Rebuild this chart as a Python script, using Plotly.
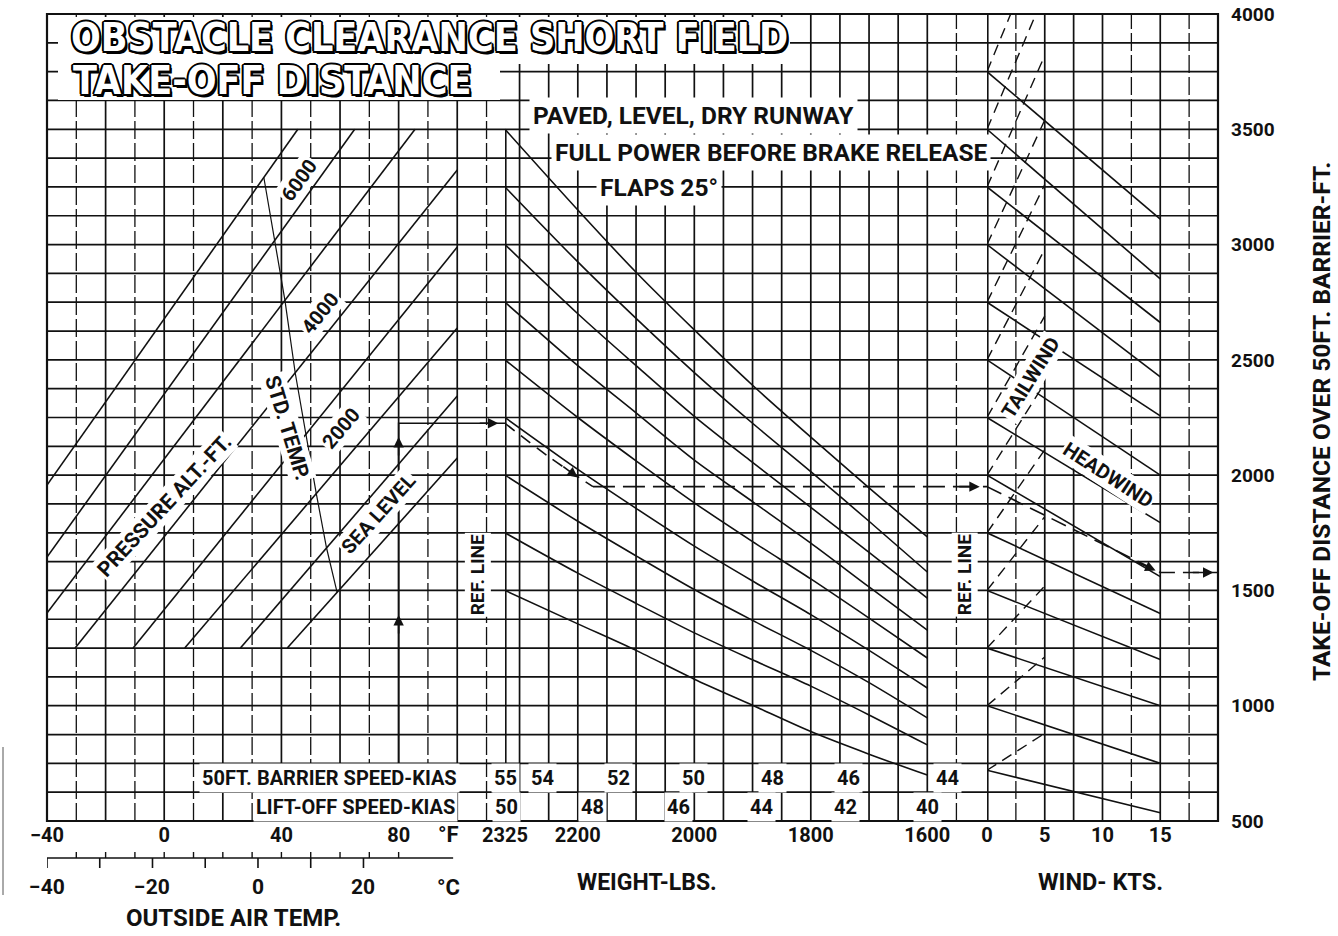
import plotly.graph_objects as go

# ---------------- data ----------------
TEMP_TICKS_F = [-40, 0, 40, 80]
TEMP_TICKS_C = [-40, -20, 0, 20]
WEIGHT_TICKS = [2325, 2200, 2000, 1800, 1600]
WIND_TICKS = [0, 5, 10, 15]
DIST_TICKS = [500, 1000, 1500, 2000, 2500, 3000, 3500, 4000]

# pressure-altitude guide lines (start / end points, deg F and ft)
ALT_NAMES = ["SEA LEVEL", "1000", "2000", "3000", "4000", "5000", "6000", "7000"]
ALT_T_START = [42, 26, 7, -10.6, -30.4, -40, -40, -40]
ALT_FT_START = [1250, 1250, 1250, 1250, 1250, 1402, 1645, 1957]
ALT_T_END = [100, 100, 100, 100, 100, 85.6, 65, 45.6]
ALT_FT_END = [2074, 2343, 2638, 2989, 3323, 3500, 3500, 3500]

# standard temperature line
STD_TEMP_F = [59.0, 55.4, 51.9, 48.3, 44.7, 41.2, 37.6, 34.0]
STD_TEMP_FT = [1492, 1684, 1920, 2176, 2444, 2758, 3016, 3291]

# weight correction curves
WEIGHTS = [2325, 2200, 2100, 2000, 1900, 1800, 1700, 1600]
WT_3500 = [3500, 3150, 2880, 2630, 2390, 2165, 1945, 1732]
WT_3250 = [3250, 2925, 2680, 2445, 2225, 2015, 1800, 1580]
WT_3000 = [3000, 2700, 2475, 2255, 2055, 1860, 1665, 1467]
WT_2750 = [2750, 2475, 2270, 2065, 1885, 1705, 1515, 1328]
WT_2500 = [2500, 2250, 2062, 1880, 1712, 1550, 1380, 1207]
WT_2250 = [2250, 2025, 1856, 1692, 1541, 1395, 1240, 1077]
WT_2000 = [2000, 1800, 1650, 1504, 1370, 1240, 1100, 947]
WT_1750 = [1750, 1575, 1444, 1316, 1199, 1085, 960, 830]
WT_1500 = [1500, 1355, 1240, 1115, 1002, 888, 790, 699]
WT_CURVES = [WT_3500, WT_3250, WT_3000, WT_2750, WT_2500, WT_2250, WT_2000, WT_1750, WT_1500]

# wind correction lines
WIND_REF_FT = [720, 1000, 1250, 1500, 1750, 2000, 2250, 2500, 2750, 3000, 3250, 3500, 3750]
HEADWIND_15KT_FT = [536, 750, 1000, 1200, 1400, 1560, 1794, 2000, 2257, 2426, 2662, 2851, 3110]
TAILWIND_5KT_FT = [880, 1211, 1519, 1820, 2110, 2400, 2690, 2980, 3260, 3540, 3820, 4090, 4360]

# speed scales
BARRIER_SPEEDS = ["55", "54", "52", "50", "48", "46", "44"]
BARRIER_WT = [2325, 2261, 2131, 2002, 1866, 1736, 1566]
LIFTOFF_SPEEDS = ["50", "48", "46", "44", "42", "40"]
LIFTOFF_WT = [2322, 2174, 2028, 1884, 1741, 1600]

# worked example
EX_TEMP_F = [80, 80, 116.3]
EX_TEMP_FT = [750, 2225, 2225]
EX_WT = [2325, 2250, 2174]
EX_WT_FT = [2225, 2080, 1950]
EX_WT_FLAT = [2174, 1497.5]
EX_WT_FLAT_FT = [1950, 1950]
EX_WIND = [0, 15, 20]
EX_WIND_FT = [1950, 1578, 1578]

# ---------------- layout geometry ----------------
W, H = 1338, 936
ML, MR, MT, MB = 47, 120, 14, 115
PW, PH = W - ML - MR, H - MT - MB
D1 = (505 - ML) / PW
D2 = (987 - ML) / PW
X1_RANGE = [-40, 116.3]
X2_RANGE = [2325, 1497.5]
X3_RANGE = [0, 20]
Y_RANGE = [500, 4000]


def px(x):
    return (x - ML) / PW


def py(y):
    return (H - MB - y) / PH


FN = "Roboto, Liberation Sans, sans-serif"
TITLE_FN = "DejaVu Sans Condensed, DejaVu Sans, sans-serif"
BLACK = "#111111"

fig = go.Figure()

# ---------------- traces ----------------
for t0, d0, t1, d1 in zip(ALT_T_START, ALT_FT_START, ALT_T_END, ALT_FT_END):
    fig.add_trace(go.Scatter(x=[t0, t1], y=[d0, d1], xaxis="x", yaxis="y", mode="lines",
                             line=dict(color=BLACK, width=1.6), hoverinfo="skip"))
fig.add_trace(go.Scatter(x=STD_TEMP_F, y=STD_TEMP_FT, xaxis="x", yaxis="y", mode="lines",
                         line=dict(color=BLACK, width=1.2), hoverinfo="skip"))

for curve in WT_CURVES:
    fig.add_trace(go.Scatter(x=WEIGHTS, y=curve, xaxis="x2", yaxis="y", mode="lines",
                             line=dict(color=BLACK, width=1.6, shape="spline", smoothing=0.8),
                             hoverinfo="skip"))

for s, h, t in zip(WIND_REF_FT, HEADWIND_15KT_FT, TAILWIND_5KT_FT):
    fig.add_trace(go.Scatter(x=[0, 15], y=[s, h], xaxis="x3", yaxis="y", mode="lines",
                             line=dict(color=BLACK, width=1.6), hoverinfo="skip"))
    fig.add_trace(go.Scatter(x=[0, 5], y=[s, t], xaxis="x3", yaxis="y", mode="lines",
                             line=dict(color=BLACK, width=1.4, dash="11px,7px"), hoverinfo="skip"))

# example path
fig.add_trace(go.Scatter(x=EX_TEMP_F, y=EX_TEMP_FT, xaxis="x", yaxis="y", mode="lines",
                         line=dict(color=BLACK, width=1.6), hoverinfo="skip"))
fig.add_trace(go.Scatter(x=EX_WT, y=EX_WT_FT, xaxis="x2", yaxis="y", mode="lines",
                         line=dict(color=BLACK, width=1.6, dash="12px,8px", shape="spline"),
                         hoverinfo="skip"))
fig.add_trace(go.Scatter(x=EX_WT_FLAT, y=EX_WT_FLAT_FT, xaxis="x2", yaxis="y", mode="lines",
                         line=dict(color=BLACK, width=1.8, dash="22px,8px"), hoverinfo="skip"))
fig.add_trace(go.Scatter(x=EX_WIND, y=EX_WIND_FT, xaxis="x3", yaxis="y", mode="lines",
                         line=dict(color=BLACK, width=1.6, dash="16px,8px"), hoverinfo="skip"))

# ---------------- shapes (grid, frame, scales) ----------------
shapes = []
GRID_W = 1.7
for d in range(625, 4000, 125):
    shapes.append(dict(type="line", xref="paper", yref="y", x0=0, x1=1, y0=d, y1=d,
                       line=dict(color=BLACK, width=GRID_W), layer="below"))
for t in range(-30, 111, 10):
    dashed = (t // 10) % 2 != 0
    shapes.append(dict(type="line", xref="x", yref="paper", x0=t, x1=t, y0=0, y1=1,
                       line=dict(color=BLACK, width=GRID_W - (0.4 if dashed else 0),
                                 dash="18px,4px" if dashed else "solid"), layer="below"))
for wgt in range(1600, 2301, 50):
    shapes.append(dict(type="line", xref="x2", yref="paper", x0=wgt, x1=wgt, y0=0, y1=1,
                       line=dict(color=BLACK, width=GRID_W), layer="below"))
shapes.append(dict(type="line", xref="x2", yref="paper", x0=1550, x1=1550, y0=0, y1=1,
                   line=dict(color=BLACK, width=GRID_W - 0.4, dash="18px,4px"), layer="below"))
for k in [5, 7.5, 10, 15]:
    shapes.append(dict(type="line", xref="x3", yref="paper", x0=k, x1=k, y0=0, y1=1,
                       line=dict(color=BLACK, width=GRID_W), layer="below"))
for k in [2.5, 12.5, 17.5]:
    shapes.append(dict(type="line", xref="x3", yref="paper", x0=k, x1=k, y0=0, y1=1,
                       line=dict(color=BLACK, width=GRID_W - 0.4, dash="18px,4px"), layer="below"))
# reference lines
shapes.append(dict(type="line", xref="x2", yref="y", x0=2325, x1=2325, y0=750, y1=3500,
                   line=dict(color=BLACK, width=3.2)))
shapes.append(dict(type="line", xref="x3", yref="y", x0=0, x1=0, y0=500, y1=4000,
                   line=dict(color=BLACK, width=3.2)))
# title blanking boxes
for x0, x1, y0, y1 in [(58, 790, 17, 64), (58, 500, 64, 100)]:
    shapes.append(dict(type="rect", xref="paper", yref="paper", x0=px(x0), x1=px(x1),
                       y0=py(y1), y1=py(y0), fillcolor="white", line=dict(width=0), layer="above"))
# frame
shapes.append(dict(type="rect", xref="paper", yref="paper", x0=0, x1=1, y0=0, y1=1,
                   line=dict(color=BLACK, width=2.2), layer="above"))
# temperature scale (deg F above / deg C below)
ys = py(858)
shapes.append(dict(type="line", xref="x", yref="paper", x0=-40, x1=98.6, y0=ys, y1=ys,
                   line=dict(color=BLACK, width=1.6)))
for t in range(-30, 81, 10):
    shapes.append(dict(type="line", xref="x", yref="paper", x0=t, x1=t, y0=ys, y1=ys + 6 / PH,
                       line=dict(color=BLACK, width=1.4)))
for c in range(-40, 21, 10):
    f = c * 9 / 5 + 32
    shapes.append(dict(type="line", xref="x", yref="paper", x0=f, x1=f, y0=ys, y1=ys - 10 / PH,
                       line=dict(color=BLACK, width=1.6)))
# scan artefact at far left
shapes.append(dict(type="line", xref="paper", yref="paper", x0=px(3), x1=px(3), y0=py(895), y1=py(747),
                   line=dict(color="#555555", width=1)))

# ---------------- annotations ----------------
ann = []


def text(t, x, y, size, xref="paper", yref="paper", angle=0, bg=None, xanchor="center",
         weight="bold", pad=1):
    d = dict(text=t, x=x, y=y, xref=xref, yref=yref, showarrow=False, textangle=angle,
             xanchor=xanchor, yanchor="middle",
             font=dict(family=FN, size=size, color=BLACK, weight=weight), borderpad=pad)
    if bg:
        d["bgcolor"] = bg
    ann.append(d)


OUTLINE = ("-2px 0 0 #000, 2px 0 0 #000, 0 -2px 0 #000, 0 2px 0 #000, "
           "-1.5px -1.5px 0 #000, 1.5px 1.5px 0 #000, -1.5px 1.5px 0 #000, 1.5px -1.5px 0 #000, "
           "2.5px 2.5px 0 #000")
for t, x0, yc in [("OBSTACLE CLEARANCE SHORT FIELD", 69, 38), ("TAKE-OFF DISTANCE", 71, 81)]:
    ann.append(dict(text=t, x=px(x0), y=py(yc), xref="paper", yref="paper", showarrow=False,
                    xanchor="left", yanchor="middle",
                    font=dict(family=TITLE_FN, size=39, color="white", weight="bold", shadow=OUTLINE)))

text("PAVED, LEVEL, DRY RUNWAY", px(529), py(115), 24.5, bg="white", xanchor="left", pad=3)
text("FULL POWER BEFORE BRAKE RELEASE", px(551), py(152), 24.5, bg="white", xanchor="left", pad=3)
text("FLAPS 25°", px(596), py(187), 24.5, bg="white", xanchor="left", pad=3)

# left panel labels
text("6000", 46, 3280, 20, "x", "y", angle=-54, bg="white")
text("4000", 53.2, 2703, 20, "x", "y", angle=-51, bg="white")
text("2000", 60.4, 2204, 20, "x", "y", angle=-50, bg="white")
text("SEA LEVEL", 73, 1831, 20, "x", "y", angle=-48, bg="white")
text("PRESSURE ALT.-FT.", 0, 1866, 21, "x", "y", angle=-47, bg="white")
text("STD. TEMP.", 42, 2204, 21, "x", "y", angle=73, bg="white")
text("REF. LINE", 107.2, 1567, 19, "x", "y", angle=-90, bg="white")
text("REF. LINE", 1535, 1567, 19, "x2", "y", angle=-90, bg="white")
text("TAILWIND", 3.8, 2425, 20, "x3", "y", angle=-58, bg="white")
text("HEADWIND", 10.5, 2000, 20, "x3", "y", angle=33, bg="white")

# speed rows
text("50FT. BARRIER SPEED-KIAS", 101, 687.5, 20, "x", "y", bg="white", xanchor="right", pad=2)
text("LIFT-OFF SPEED-KIAS", 100.3, 562.5, 20, "x", "y", bg="white", xanchor="right", pad=2)
for s, wgt in zip(BARRIER_SPEEDS, BARRIER_WT):
    text(s, wgt, 687.5, 20, "x2", "y", bg="white", pad=2)
for s, wgt in zip(LIFTOFF_SPEEDS, LIFTOFF_WT):
    text(s, wgt, 562.5, 20, "x2", "y", bg="white", pad=2)

# temperature scale labels
text("°F", px(448), py(835), 22)
for c in TEMP_TICKS_C:
    text(("−" + str(-c)) if c < 0 else str(c), c * 9 / 5 + 32, py(887), 21, "x", "paper")
text("°C", px(448), py(887), 22)
text("OUTSIDE AIR TEMP.", px(233), py(918), 24)
text("WEIGHT-LBS.", px(647), py(882), 23)
text("WIND- KTS.", px(1100), py(882), 23.5)
text("TAKE-OFF DISTANCE OVER 50FT. BARRIER-FT.", px(1321), py(422), 24.5, angle=-90)

# arrowheads of the worked example
ARR = dict(showarrow=True, arrowhead=2, arrowsize=1.3, arrowwidth=1.6, arrowcolor=BLACK, text="")
ann.append(dict(x=80, y=1393, xref="x", yref="y", ax=0, ay=20, **ARR))
ann.append(dict(x=80, y=2165, xref="x", yref="y", ax=0, ay=20, **ARR))
ann.append(dict(x=114, y=2225, xref="x", yref="y", ax=-20, ay=0, **ARR))
ann.append(dict(x=2200, y=1990, xref="x2", yref="y", ax=-16, ay=-12, **ARR))
ann.append(dict(x=1510, y=1950, xref="x2", yref="y", ax=-22, ay=0, **ARR))
ann.append(dict(x=14.6, y=1586, xref="x3", yref="y", ax=-20, ay=-9, **ARR))
ann.append(dict(x=19.6, y=1578, xref="x3", yref="y", ax=-22, ay=0, **ARR))

# ---------------- axes ----------------
TICKFONT = dict(family=FN, size=20, color=BLACK, weight="bold")
common_x = dict(showgrid=False, zeroline=False, showline=False, ticks="", anchor="y",
                tickfont=TICKFONT, fixedrange=True, tickmode="array", automargin=False)
fig.update_layout(
    width=W, height=H,
    margin=dict(l=ML, r=MR, t=MT, b=MB, pad=0),
    paper_bgcolor="white", plot_bgcolor="white",
    showlegend=False,
    xaxis=dict(domain=[0, D1], range=X1_RANGE, tickvals=TEMP_TICKS_F,
               ticktext=[("−" + str(-v)) if v < 0 else str(v) for v in TEMP_TICKS_F], **common_x),
    xaxis2=dict(domain=[D1, D2], range=X2_RANGE, tickvals=WEIGHT_TICKS,
                ticktext=[str(v) for v in WEIGHT_TICKS], **common_x),
    xaxis3=dict(domain=[D2, 1], range=X3_RANGE, tickvals=WIND_TICKS,
                ticktext=[str(v) for v in WIND_TICKS], **common_x),
    yaxis=dict(domain=[0, 1], range=Y_RANGE, anchor="x3", side="right", showgrid=False,
               zeroline=False, showline=False, ticks="", tickmode="array", tickvals=DIST_TICKS,
               tickfont=dict(family=FN, size=19, color=BLACK, weight="bold"),
               ticklabelstandoff=12, fixedrange=True, automargin=False),
    shapes=shapes,
    annotations=ann,
)

fig.write_html("out.html", config={"displayModeBar": False},
               post_script="document.body.style.margin='0px';")
